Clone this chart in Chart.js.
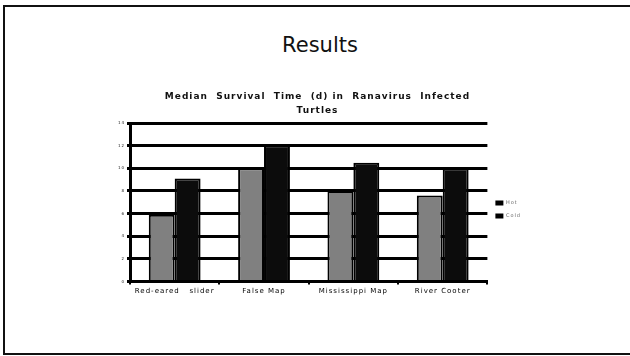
<!DOCTYPE html>
<html>
<head>
<meta charset="utf-8">
<script src="https://cdn.jsdelivr.net/npm/chart.js@4"></script>
<style>
  html, body { margin: 0; padding: 0; background: #fff; overflow: hidden; }
  #wrap { position: relative; width: 630px; height: 356px; overflow: hidden; }
  .line { position: absolute; background: #111; }
  #heading { position: absolute; left: 0; width: 640px; top: 33px; text-align: center;
             font-family: "DejaVu Sans", sans-serif; font-size: 21px; color: #111; }
  #chartBox { position: absolute; left: 0; top: 0; width: 630px; height: 356px; }
</style>
</head>
<body>
<div id="wrap">
  <div class="line" style="left:3px; top:5px; width:2px; height:350px;"></div>
  <div class="line" style="left:3px; top:5px; width:627px; height:2px;"></div>
  <div class="line" style="left:3px; top:353px; width:627px; height:2px;"></div>
  <div id="heading">Results</div>
  <div id="chartBox"><canvas id="myChart" width="630" height="356"></canvas></div>
</div>
<script>
const categories = ['Red-eared   slider', 'False Map', 'Mississippi Map', 'River Cooter'];
const hotValues = [5.9, 10, 8, 7.6];
const coldValues = [9.1, 12, 10.5, 10];
const seriesNames = ['Hot', 'Cold'];
const titleLines = ['Median  Survival  Time  (d) in  Ranavirus  Infected', 'Turtles'];

// wide letter spacing like the original slide
const spacing = {
  id: 'spacing',
  beforeDraw: function(chart) { chart.ctx.letterSpacing = '1px'; }
};

document.addEventListener('DOMContentLoaded', function() {
    const ctx = document.getElementById('myChart');

    new Chart(ctx, {
      type: 'bar',
      data: {
        labels: categories,
        datasets: [{
          label: seriesNames[0],
          data: hotValues,
          backgroundColor: '#808080',
          borderColor: '#000',
          borderWidth: 2
        },
        {
          label: seriesNames[1],
          data: coldValues,
          backgroundColor: '#0c0c0c',
          borderColor: '#000',
          borderWidth: 2
        }]
      },
      plugins: [spacing],
      options: {
        responsive: false,
        animation: false,
        devicePixelRatio: 1,
        categoryPercentage: 0.58,
        barPercentage: 1.0,
        layout: { padding: { left: 108, top: 90, right: 103, bottom: 59 } },
        plugins: {
          title: {
            display: true,
            text: titleLines,
            color: '#111',
            font: { family: 'DejaVu Sans', size: 9, weight: 'bold', lineHeight: 1.5 },
            padding: { top: 0, bottom: 6 }
          },
          legend: {
            position: 'right',
            title: { display: true, text: '', font: { size: 5 }, padding: { top: 0, bottom: 26 } },
            labels: {
              boxWidth: 8,
              boxHeight: 5,
              padding: 8,
              color: '#000',
              font: { family: 'DejaVu Sans', size: 5 },
              generateLabels: function(chart) {
                return chart.data.datasets.map(function(ds, i) {
                  return { text: ds.label, fillStyle: '#000', strokeStyle: '#000', lineWidth: 0, datasetIndex: i };
                });
              }
            }
          },
          tooltip: { enabled: false }
        },
        scales: {
          x: {
            grid: { offset: true, drawOnChartArea: false, drawTicks: true, tickLength: 3, color: '#000', lineWidth: 2 },
            border: { color: '#000', width: 3 },
            ticks: { color: '#000', font: { family: 'DejaVu Sans', size: 7 }, padding: 2, maxRotation: 0 }
          },
          y: {
            min: 0,
            max: 14,
            ticks: { stepSize: 2, color: '#222', font: { family: 'DejaVu Sans', size: 4 }, padding: 2 },
            grid: { color: '#000', lineWidth: 3, tickLength: 3 },
            border: { color: '#000', width: 3 },
            afterFit: function(scale) { scale.width = 22; }
          }
        }
      }
    });
});
</script>
</body>
</html>
